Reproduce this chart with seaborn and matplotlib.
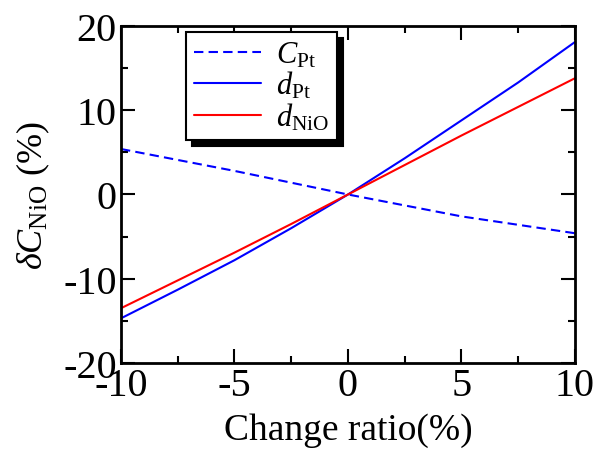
import pandas as pd
import matplotlib.pyplot as plt
import seaborn as sns

# ========== Data ==========
change_ratio = [-10, -7.5, -5, -2.5, 0, 2.5, 5, 7.5, 10]
c_pt = [5.4, 4.1, 2.8, 1.4, 0.0, -1.3, -2.6, -3.6, -4.6]
d_pt = [-14.7, -11.3, -7.8, -4.0, 0.0, 4.3, 8.8, 13.3, 18.1]
d_nio = [-13.5, -10.2, -6.9, -3.5, 0.0, 3.5, 7.0, 10.4, 13.8]

df = pd.DataFrame({
    'ratio': change_ratio,
    'C_Pt': c_pt,
    'd_Pt': d_pt,
    'd_NiO': d_nio,
})

# ========== Style ==========
sns.set_style("ticks")
plt.rcParams['font.family'] = ['Liberation Serif', 'DejaVu Serif']
plt.rcParams['mathtext.fontset'] = 'custom'
plt.rcParams['mathtext.rm'] = 'Liberation Serif'
plt.rcParams['mathtext.it'] = 'Liberation Serif:italic'
plt.rcParams['mathtext.bf'] = 'Liberation Serif:bold'
plt.rcParams['axes.unicode_minus'] = False
plt.rcParams['text.color'] = 'black'
plt.rcParams['axes.labelcolor'] = 'black'
plt.rcParams['xtick.color'] = 'black'
plt.rcParams['ytick.color'] = 'black'

fig = plt.figure(figsize=(5.98, 4.56), dpi=100)
ax = fig.add_axes([0.2023, 0.2018, 0.7592, 0.739])

sns.lineplot(data=df, x='ratio', y='C_Pt', ax=ax, color='#0000ff', lw=1.5,
             linestyle=(0, (4.5, 2.5)), label=r'$C_{\rm Pt}$')
sns.lineplot(data=df, x='ratio', y='d_Pt', ax=ax, color='#0000ff', lw=1.5,
             label=r'$d_{\rm Pt}$')
sns.lineplot(data=df, x='ratio', y='d_NiO', ax=ax, color='#ff0000', lw=1.5,
             label=r'$d_{\rm NiO}$')

ax.set_xlim(-10, 10)
ax.set_ylim(-20, 20)
ax.set_xticks([-10, -5, 0, 5, 10])
ax.set_yticks([-20, -10, 0, 10, 20])
ax.set_xticks([-7.5, -2.5, 2.5, 7.5], minor=True)
ax.set_yticks([-15, -5, 5, 15], minor=True)
ax.tick_params(which='both', direction='in', top=True, right=True,
               labelsize=29, width=1.5, pad=3)
ax.tick_params(which='major', length=10)
ax.tick_params(which='minor', length=5)
for s in ax.spines.values():
    s.set_linewidth(2)
    s.set_color('black')

ax.set_xlabel('Change ratio(%)', fontsize=27, labelpad=6)
ax.set_ylabel(r'$\delta C_{\rm NiO}$ (%)', fontsize=26, labelpad=8)

leg = ax.legend(loc='upper left', bbox_to_anchor=(0.143, 0.982), fontsize=22,
                frameon=True, fancybox=False, handlelength=2.2,
                borderaxespad=0, borderpad=0.25, labelspacing=0.0,
                handletextpad=0.5,
                shadow={'ox': 4.5, 'oy': -4.5, 'color': 'black', 'alpha': 1})
leg.get_frame().set_edgecolor('black')
leg.get_frame().set_linewidth(1.5)
leg.get_frame().set_alpha(1)

plt.savefig("out.png", dpi=100)
